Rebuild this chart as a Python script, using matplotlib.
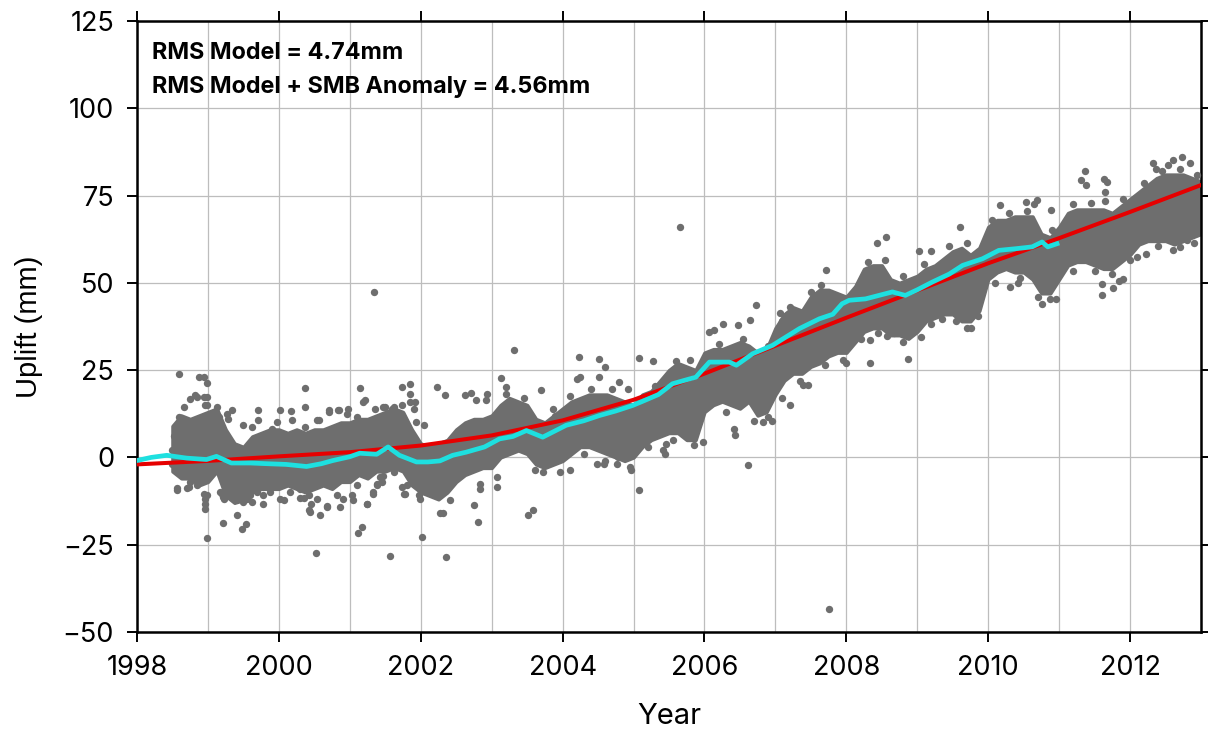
import numpy as np
import matplotlib.pyplot as plt

plt.rcParams['font.family'] = ['Inter', 'Liberation Sans', 'DejaVu Sans']

# dense band of daily GPS uplift (lower / upper edge, mm)
band_year = [1998.5, 1998.625, 1998.75, 1998.875, 1999.0, 1999.125, 1999.25, 1999.375, 1999.5, 1999.625,
             1999.75, 1999.875, 2000.0, 2000.125, 2000.25, 2000.375, 2000.5, 2000.625, 2000.75, 2000.875,
             2001.0, 2001.125, 2001.25, 2001.375, 2001.5, 2001.625, 2001.75, 2001.875, 2002.0, 2002.125,
             2002.25, 2002.375, 2002.5, 2002.625, 2002.75, 2002.875, 2003.0, 2003.125, 2003.25, 2003.375,
             2003.5, 2003.625, 2003.75, 2003.875, 2004.0, 2004.125, 2004.25, 2004.375, 2004.5, 2004.625,
             2004.75, 2004.875, 2005.0, 2005.125, 2005.25, 2005.375, 2005.5, 2005.625, 2005.75, 2005.875,
             2006.0, 2006.125, 2006.25, 2006.375, 2006.5, 2006.625, 2006.75, 2006.875, 2007.0, 2007.125,
             2007.25, 2007.375, 2007.5, 2007.625, 2007.75, 2007.875, 2008.0, 2008.125, 2008.25, 2008.375,
             2008.5, 2008.625, 2008.75, 2008.875, 2009.0, 2009.125, 2009.25, 2009.375, 2009.5, 2009.625,
             2009.75, 2009.875, 2010.0, 2010.125, 2010.25, 2010.375, 2010.5, 2010.625, 2010.75, 2010.875,
             2011.0, 2011.125, 2011.25, 2011.375, 2011.5, 2011.625, 2011.75, 2011.875, 2012.0, 2012.125,
             2012.25, 2012.375, 2012.5, 2012.625, 2012.75, 2012.875, 2013.0]
band_lo = [-4, -6, -6, -8, -7, -4, -11, -13, -12, -10,
           -9, -9, -9, -8, -9, -10, -9, -8, -9, -7,
           -7, -5, -6, -4, -4, -3, -4, -8, -10, -11,
           -12, -10, -7, -5, -4, -3, -3, 0, 1, 2,
           1, -2, -3, -2, -1, 1, 3, 3, 2, 1,
           0, -1, 0, 3, 5, 6, 7, 7, 5, 5,
           13, 15, 16, 15, 14, 16, 12, 13, 18, 22,
           24, 24, 26, 27, 29, 30, 30, 33, 36, 37,
           37, 35, 35, 34, 36, 39, 40, 41, 41, 39,
           39, 42, 51, 53, 54, 53, 53, 51, 47, 47,
           51, 55, 56, 56, 55, 54, 54, 56, 58, 61,
           62, 62, 62, 61, 62, 63, 64]
band_hi = [9, 12, 11, 12, 13, 14, 8, 4, 3, 6,
           7, 8, 8, 7, 8, 7, 8, 8, 9, 10,
           10, 11, 11, 12, 13, 14, 13, 8, 4, 3,
           4, 5, 8, 10, 11, 11, 12, 15, 17, 16,
           15, 11, 10, 12, 14, 16, 17, 18, 18, 18,
           17, 16, 15, 18, 19, 22, 25, 27, 26, 25,
           30, 31, 31, 32, 33, 32, 30, 31, 37, 41,
           43, 42, 46, 48, 48, 47, 46, 49, 54, 55,
           55, 51, 50, 51, 52, 54, 55, 57, 59, 60,
           58, 60, 66, 68, 68, 69, 69, 69, 64, 63,
           66, 70, 71, 71, 71, 71, 70, 72, 74, 76,
           78, 80, 81, 81, 81, 80, 79]

# scattered daily solutions: outliers
pt_year = [1998.49, 1998.50, 1998.52, 1998.59, 1998.87, 1998.94, 1998.99, 1998.66, 1998.75, 1998.82,
           1998.94, 1998.99, 1999.13, 1999.27, 1999.34, 1999.71, 1999.71, 2000.02, 2000.17, 2000.37,
           2000.37, 2000.54, 2000.70, 2000.85, 2000.98, 2001.14, 2001.19, 2001.22, 2001.34, 2001.50,
           2001.62, 2001.73, 2001.85, 2001.85, 2001.92, 2002.23, 2002.34, 2002.62, 2002.71, 2002.78,
           2002.93, 2002.92, 2003.13, 2003.20, 2003.32, 2003.70, 2003.86, 2004.20, 2004.24, 2004.23,
           2004.52, 2004.60, 2004.52, 2004.80, 2004.92, 2005.08, 2005.27, 2005.66, 2006.07, 2006.14,
           2006.26, 2006.47, 2006.64, 2006.73, 2007.07, 2007.21, 2007.71, 2008.43, 2008.56, 2009.02,
           2009.20, 2009.60, 2010.16, 2010.54, 2010.64, 2010.69, 2010.88, 2011.31, 2011.37, 2011.38,
           2011.63, 2011.68, 2011.64, 2011.64, 2012.33, 2012.36, 2012.53, 2012.61, 2012.73, 2012.85,
           1998.56, 1998.73, 1998.94, 1998.96, 1998.96, 1998.99, 1999.20, 1999.21, 1999.21, 1999.41,
           1999.53, 1999.48, 1999.55, 1999.62, 1999.78, 2000.07, 2000.30, 2000.36, 2000.42, 2000.44,
           2000.52, 2000.58, 2000.68, 2000.86, 2001.05, 2001.11, 2001.17, 2001.24, 2001.33, 2001.38,
           2001.56, 2001.42, 2001.45, 2001.73, 2001.78, 2001.99, 2002.02, 2002.27, 2002.31, 2002.35,
           2002.41, 2002.75, 2002.81, 2002.83, 2002.83, 2003.07, 2003.07, 2003.51, 2003.58, 2003.61,
           2003.73, 2003.96, 2004.49, 2004.59, 2004.77, 2004.78, 2004.95, 2004.97, 2005.08, 2005.42,
           2005.45, 2005.46, 2005.98, 2006.42, 2006.43, 2006.61, 2006.83, 2006.95, 2007.20, 2007.39,
           2007.46, 2007.75, 2008.00, 2008.33, 2008.33, 2008.57, 2008.67, 2008.87, 2009.20, 2009.70,
           2009.76, 2010.31, 2010.42, 2010.76, 2010.87, 2011.60, 2011.76, 2011.60, 2011.85, 2011.90,
           2012.00, 2012.22, 2012.71, 2012.80]
pt_val = [2.0, -2.0, 6.0, 23.8, 22.9, 22.9, 21.2, 14.4, 16.8, 17.8,
          17.3, 14.9, 14.4, 12.5, 13.7, 13.5, 10.6, 13.7, 13.3, 14.4,
          19.9, 10.8, 13.5, 13.5, 14.0, 19.9, 15.8, 16.3, 47.3, 14.4,
          14.4, 20.1, 21.1, 18.2, 15.8, 20.3, 17.8, 17.8, 18.4, 16.3,
          18.2, 16.3, 22.7, 20.3, 30.7, 19.4, 14.0, 22.5, 23.0, 28.7,
          28.3, 25.9, 23.0, 21.6, 19.7, 28.6, 27.6, 66.0, 35.9, 36.4,
          38.3, 37.8, 39.3, 43.6, 41.3, 43.1, 53.6, 61.3, 63.0, 59.2,
          59.1, 66.0, 72.4, 73.1, 72.7, 73.8, 71.0, 79.4, 82.0, 77.9,
          79.7, 78.9, 76.0, 73.5, 84.2, 82.7, 83.7, 85.3, 86.0, 84.2,
          -9.2, -8.5, -10.4, -14.7, -12.0, -23.2, -10.4, -11.4, -18.9, -16.6,
          -19.0, -20.4, -11.8, -12.8, -13.3, -12.1, -11.6, -11.6, -15.2, -15.7,
          -27.5, -16.6, -14.2, -14.2, -12.3, -21.7, -20.0, -13.3, -10.4, -7.5,
          -28.1, -5.6, -7.1, -8.5, -10.4, -11.8, -22.8, -15.9, -15.9, -28.4,
          -12.3, -13.5, -18.5, -7.5, -9.0, -5.6, -8.5, -16.4, -15.2, -3.7,
          -4.2, -4.2, -1.8, -1.8, -2.0, 0.1, -2.8, -3.7, -9.3, 2.0,
          1.0, 3.9, 4.4, 8.2, 6.3, -2.3, 10.1, 10.4, 14.9, 20.6,
          20.6, -43.5, 27.1, 27.1, 33.7, 34.7, 35.5, 28.3, 38.1, 37.1,
          37.1, 48.8, 49.9, 43.8, 45.5, 46.4, 48.6, 49.8, 50.5, 51.0,
          56.6, 58.4, 60.3, 62.2]

# scattered daily solutions along the band edges
edge_year = [1998.59, 1998.85, 1998.99, 1998.96, 1999.15, 1999.29, 1999.50, 1999.62, 1999.90, 1999.97,
             2000.18, 2000.37, 2000.56, 2000.70, 2000.84, 2000.96, 2001.10, 2001.36, 2001.47, 2001.59,
             2001.73, 2001.85, 2001.90, 2001.94, 2002.04,
             1998.56, 1998.70, 1998.75, 1998.85, 1998.96, 1998.99, 1999.17, 1999.22, 1999.31, 1999.41,
             1999.50, 1999.60, 1999.69, 1999.78, 1999.88, 2000.02, 2000.16, 2000.30, 2000.42, 2000.46,
             2000.54, 2000.68, 2000.82, 2000.91, 2001.03, 2001.10, 2001.24, 2001.33, 2001.38, 2001.47,
             2001.62, 2001.76, 2001.80, 2001.97, 2002.04,
             2003.20, 2003.45, 2003.90, 2004.10, 2004.40, 2004.70, 2004.10, 2004.30, 2004.60,
             2005.30, 2005.60, 2005.80, 2006.20, 2006.55, 2006.90, 2007.10, 2007.50, 2007.65,
             2005.20, 2005.55, 2005.85, 2006.30, 2006.70, 2006.90, 2007.10, 2007.35, 2007.70, 2007.95,
             2008.20, 2008.45, 2008.30, 2008.55, 2008.80, 2009.10, 2009.45, 2009.70, 2010.05, 2010.30,
             2010.55, 2010.90, 2011.20, 2011.45, 2011.90, 2012.20, 2012.45, 2012.70, 2012.95,
             2008.80, 2009.05, 2009.35, 2009.55, 2009.85, 2010.10, 2010.45, 2010.70, 2010.95, 2011.20,
             2011.50, 2011.75, 2012.10, 2012.40, 2012.60, 2012.90]
edge_val = [11.5, 17.3, 17.3, 14.9, 11.5, 11.1, 9.2, 8.7, 8.2, 10.1,
            10.6, 8.7, 10.6, 13.0, 13.5, 12.5, 11.5, 13.9, 14.4, 13.9,
            14.9, 15.8, 13.9, 10.1, 9.2,
            -8.9, -8.9, -7.1, -8.0, -13.3, -10.9, -9.9, -11.8, -10.9, -12.3,
            -12.8, -10.9, -9.9, -10.9, -9.9, -11.8, -9.9, -9.0, -10.9, -13.3,
            -11.8, -13.8, -10.9, -11.8, -10.9, -8.0, -13.3, -9.9, -8.0, -5.2,
            -4.2, -10.4, -8.0, -10.9, -8.0,
            18.3, 17.0, 12.0, 17.5, 19.5, 19.5, -3.5, 1.0, -1.0,
            20.5, 27.5, 28.0, 32.5, 34.0, 32.0, 39.0, 47.5, 49.5,
            3.0, 5.0, 3.5, 13.0, 10.5, 11.5, 17.0, 22.0, 26.5, 28.0,
            34.0, 35.5, 56.0, 56.5, 52.0, 55.5, 60.5, 61.5, 68.0, 70.0,
            70.5, 65.0, 72.5, 73.0, 74.0, 78.5, 82.0, 82.5, 81.0,
            33.0, 34.5, 39.5, 39.0, 40.5, 50.0, 51.5, 46.0, 45.5, 53.5,
            53.5, 52.5, 57.5, 60.5, 59.5, 61.5]

# ice-loss model (red) and model + SMB anomaly (cyan)
model_year = [1998.0, 1999.0, 2000.0, 2001.0, 2002.0, 2003.0, 2004.0, 2005.0, 2006.0,
              2007.0, 2008.0, 2009.0, 2010.0, 2011.0, 2012.0, 2013.0]
model_val = [-2.0, -1.0, 0.3, 1.5, 3.4, 6.3, 10.6, 16.5, 24.0, 32.0, 40.0, 47.8, 55.6, 62.8, 70.3, 78.0]

smb_year = [1998.0, 1998.2, 1998.42, 1998.7, 1998.98, 1999.12, 1999.33, 1999.6, 1999.83, 2000.1,
            2000.39, 2000.6, 2000.76, 2001.0, 2001.14, 2001.38, 2001.54, 2001.7, 2001.94, 2002.1,
            2002.27, 2002.45, 2002.64, 2002.9, 2003.11, 2003.3, 2003.49, 2003.72, 2004.05, 2004.3,
            2004.52, 2004.75, 2004.99, 2005.12, 2005.35, 2005.55, 2005.88, 2006.07, 2006.35, 2006.45,
            2006.68, 2006.96, 2007.15, 2007.34, 2007.62, 2007.81, 2007.94, 2008.04, 2008.27, 2008.65,
            2008.83, 2009.0, 2009.21, 2009.45, 2009.64, 2009.92, 2010.15, 2010.4, 2010.62, 2010.76,
            2010.84, 2010.97]
smb_val = [-0.9, 0.0, 0.6, -0.2, -0.6, 0.3, -1.6, -1.6, -1.8, -2.0,
           -2.6, -1.8, -0.9, 0.2, 1.2, 0.9, 3.0, 0.6, -1.3, -1.3,
           -1.0, 0.6, 1.5, 3.0, 5.3, 6.0, 7.7, 5.8, 9.2, 10.5,
           12.0, 13.3, 14.9, 16.0, 18.0, 21.1, 23.0, 27.3, 27.3, 26.4,
           29.7, 32.1, 34.5, 36.9, 39.7, 41.0, 44.0, 45.0, 45.4, 47.4,
           46.4, 48.0, 50.2, 52.5, 55.0, 56.9, 59.3, 59.8, 60.3, 61.7,
           60.3, 61.2]

dot_color = '#6e6e6e'

fig = plt.figure(figsize=(12.08, 7.33), dpi=100)
ax = fig.add_axes([0.1134, 0.1378, 0.8808, 0.8336])

ax.fill_between(band_year, band_lo, band_hi, facecolor=dot_color, edgecolor=dot_color,
                lw=2.5, joinstyle='round', zorder=2)
ax.scatter(pt_year, pt_val, s=28, color=dot_color, lw=0, zorder=3)
ax.scatter(edge_year, edge_val, s=28, color=dot_color, lw=0, zorder=3)
ax.plot(model_year, model_val, color='#e60000', lw=2.9, zorder=4)
ax.plot(smb_year, smb_val, color='#1ee0e0', lw=3.4, zorder=5)

ax.set_xlim(1998, 2013)
ax.set_ylim(-50, 125)
ax.set_xticks(np.arange(1998, 2013, 2))
ax.set_xticks(np.arange(1998, 2014, 1), minor=True)
ax.set_yticks(np.arange(-50, 126, 25))
ax.grid(True, which='both', color='#bdbdbd', lw=0.9)
ax.set_axisbelow(True)
ax.tick_params(which='major', direction='out', length=7.5, width=1.4, labelsize=19.5, pad=9,
               top=True, right=True)
ax.tick_params(which='minor', length=0)
for sp in ax.spines.values():
    sp.set_linewidth(1.8)

ax.set_xlabel('Year', fontsize=21, labelpad=16)
ax.set_ylabel('Uplift (mm)', fontsize=21, labelpad=14, family=['Liberation Sans', 'DejaVu Sans'])

ax.text(0.014, 0.938, 'RMS Model = 4.74mm', transform=ax.transAxes, fontsize=16.8,
        fontweight='bold', va='baseline')
ax.text(0.014, 0.882, 'RMS Model + SMB Anomaly = 4.56mm', transform=ax.transAxes, fontsize=16.8,
        fontweight='bold', va='baseline')

fig.savefig('out.png', dpi=100)
